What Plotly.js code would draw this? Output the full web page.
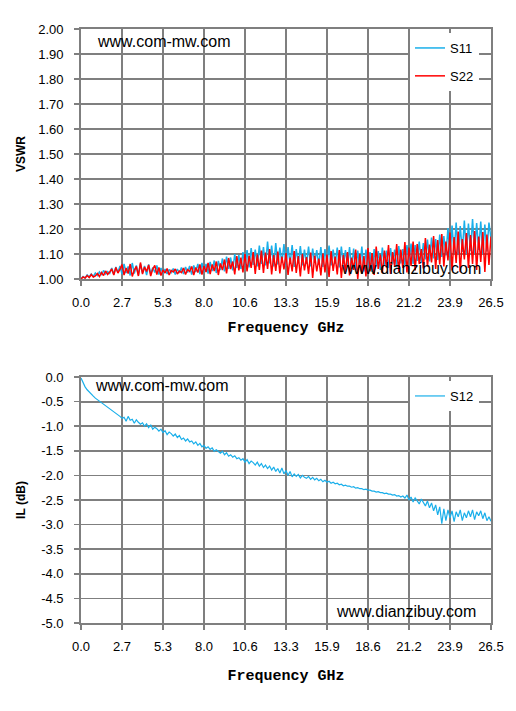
<!DOCTYPE html>
<html>
<head>
<meta charset="utf-8">
<script src="https://cdn.plot.ly/plotly-3.0.1.min.js"></script>
<style>html,body{margin:0;padding:0;background:#fff;}#chart{width:516px;height:711px;}</style>
</head>
<body>
<div id="chart"></div>
<script>
// Frequency tick positions and labels (GHz)
const tickVals = [0, 2.65, 5.3, 7.95, 10.6, 13.25, 15.9, 18.55, 21.2, 23.85, 26.5];
const tickLabels = ['0.0','2.7','5.3','8.0','10.6','13.3','15.9','18.6','21.2','23.9','26.5'];
const vswrTickVals = [1.0,1.1,1.2,1.3,1.4,1.5,1.6,1.7,1.8,1.9,2.0];
const vswrTickLabels = ['1.00','1.10','1.20','1.30','1.40','1.50','1.60','1.70','1.80','1.90','2.00'];
const ilTickVals = [0,-0.5,-1,-1.5,-2,-2.5,-3,-3.5,-4,-4.5,-5];
const ilTickLabels = ['0.0','-0.5','-1.0','-1.5','-2.0','-2.5','-3.0','-3.5','-4.0','-4.5','-5.0'];

// S11 VSWR, 201 samples across 0–26.5 GHz
const s11 = [
1.000,1.010,1.004,1.016,1.008,1.020,1.010,1.024,1.014,1.028,
1.016,1.034,1.020,1.030,1.022,1.044,1.018,1.048,1.026,1.052,
1.020,1.060,1.024,1.050,1.014,1.064,1.022,1.054,1.016,1.060,
1.024,1.052,1.016,1.058,1.020,1.046,1.026,1.054,1.018,1.044,
1.022,1.040,1.020,1.038,1.026,1.042,1.018,1.040,1.024,1.046,
1.020,1.048,1.026,1.052,1.018,1.054,1.028,1.060,1.020,1.064,
1.030,1.060,1.022,1.068,1.032,1.074,1.024,1.072,1.036,1.082,
1.030,1.090,1.040,1.086,1.034,1.100,1.044,1.096,1.040,1.108,
1.052,1.116,1.046,1.124,1.056,1.118,1.050,1.134,1.060,1.128,
1.054,1.150,1.062,1.134,1.050,1.144,1.058,1.126,1.064,1.140,
1.052,1.128,1.060,1.136,1.048,1.120,1.062,1.132,1.054,1.118,
1.060,1.130,1.050,1.122,1.064,1.116,1.056,1.128,1.048,1.120,
1.062,1.134,1.054,1.118,1.060,1.126,1.046,1.130,1.058,1.116,
1.050,1.128,1.040,1.122,1.036,1.114,1.044,1.130,1.030,1.118,
1.046,1.108,1.028,1.120,1.050,1.112,1.036,1.126,1.054,1.114,
1.044,1.124,1.058,1.118,1.046,1.132,1.062,1.120,1.054,1.136,
1.066,1.142,1.060,1.136,1.072,1.150,1.064,1.144,1.078,1.158,
1.070,1.166,1.082,1.160,1.076,1.178,1.088,1.172,1.094,1.204,
1.092,1.214,1.104,1.226,1.098,1.212,1.108,1.234,1.100,1.222,
1.112,1.240,1.104,1.224,1.116,1.230,1.100,1.218,1.110,1.226,1.160
];

// S22 VSWR
const s22 = [
1.000,1.008,1.004,1.014,1.006,1.018,1.008,1.012,1.022,1.010,
1.026,1.014,1.032,1.018,1.028,1.040,1.016,1.046,1.024,1.038,
1.058,1.016,1.044,1.022,1.060,1.010,1.036,1.050,1.012,1.066,
1.020,1.048,1.030,1.056,1.012,1.040,1.054,1.018,1.046,1.014,
1.036,1.024,1.042,1.016,1.034,1.028,1.040,1.020,1.032,1.026,
1.044,1.018,1.038,1.030,1.050,1.016,1.046,1.026,1.058,1.018,
1.052,1.028,1.064,1.020,1.058,1.032,1.070,1.016,1.062,1.036,
1.078,1.022,1.084,1.040,1.070,1.018,1.092,1.034,1.086,1.026,
1.100,1.030,1.094,1.044,1.108,1.020,1.098,1.036,1.114,1.024,
1.106,1.040,1.120,1.018,1.096,1.032,1.110,1.022,1.090,1.038,
1.104,1.016,1.086,1.030,1.112,1.024,1.092,1.010,1.100,1.034,
1.088,1.020,1.106,1.004,1.094,1.030,1.082,1.014,1.102,1.026,
1.098,1.008,1.112,1.032,1.090,1.018,1.116,1.004,1.096,1.028,
1.108,1.014,1.086,1.036,1.118,1.000,1.100,1.022,1.092,1.010,
1.124,1.030,1.104,1.016,1.130,1.040,1.098,1.024,1.114,1.046,
1.136,1.020,1.108,1.050,1.140,1.030,1.118,1.044,1.148,1.026,
1.126,1.052,1.150,1.034,1.140,1.060,1.120,1.042,1.164,1.050,
1.138,1.066,1.172,1.040,1.156,1.058,1.180,1.050,1.150,1.074,
1.186,1.034,1.168,1.064,1.190,1.028,1.160,1.078,1.184,1.044,
1.176,1.060,1.192,1.036,1.170,1.068,1.188,1.028,1.178,1.056,1.170
];

// S12 insertion loss in dB
const s12 = [
-0.02,-0.12,-0.20,-0.26,-0.31,-0.35,-0.39,-0.43,-0.46,-0.49,
-0.52,-0.55,-0.58,-0.61,-0.64,-0.67,-0.70,-0.74,-0.77,-0.80,
-0.84,-0.82,-0.90,-0.80,-0.88,-0.86,-0.94,-0.87,-0.92,-0.96,
-0.93,-1.00,-0.95,-1.03,-0.97,-1.06,-1.02,-1.05,-1.10,-1.06,
-1.13,-1.09,-1.17,-1.12,-1.15,-1.20,-1.16,-1.23,-1.19,-1.27,
-1.24,-1.30,-1.26,-1.32,-1.30,-1.36,-1.32,-1.39,-1.35,-1.42,
-1.39,-1.45,-1.42,-1.47,-1.44,-1.51,-1.48,-1.52,-1.55,-1.51,
-1.58,-1.54,-1.61,-1.58,-1.63,-1.60,-1.66,-1.64,-1.69,-1.66,
-1.73,-1.68,-1.76,-1.71,-1.74,-1.79,-1.73,-1.81,-1.76,-1.84,
-1.79,-1.86,-1.81,-1.89,-1.83,-1.92,-1.86,-1.95,-1.85,-1.97,
-1.90,-2.00,-1.92,-2.03,-1.97,-2.02,-1.98,-2.05,-2.00,-2.04,
-2.06,-2.02,-2.08,-2.04,-2.09,-2.06,-2.11,-2.08,-2.13,-2.10,
-2.14,-2.12,-2.16,-2.14,-2.17,-2.16,-2.19,-2.18,-2.21,-2.20,
-2.22,-2.22,-2.24,-2.23,-2.26,-2.25,-2.27,-2.27,-2.29,-2.28,
-2.30,-2.30,-2.32,-2.32,-2.34,-2.33,-2.35,-2.35,-2.37,-2.36,
-2.38,-2.38,-2.40,-2.39,-2.42,-2.41,-2.44,-2.42,-2.46,-2.40,
-2.50,-2.44,-2.54,-2.46,-2.52,-2.58,-2.48,-2.56,-2.62,-2.52,
-2.66,-2.56,-2.72,-2.60,-2.80,-2.64,-2.98,-2.68,-2.92,-2.70,
-2.86,-2.72,-2.94,-2.74,-2.84,-2.70,-2.92,-2.76,-2.86,-2.72,
-2.84,-2.70,-2.90,-2.74,-2.82,-2.72,-2.88,-2.76,-2.92,-2.84,-2.93
];

// Uniform frequency sampling grid 0–26.5 GHz
const fMax = 26.5;
const freq = s11.map((_, i) => +(i * fMax / (s11.length - 1)).toFixed(4));

const BLUE = '#1AAFEA';
const RED = '#FF0000';
const GRID = '#7F7F7F';
const tickFont = {family: 'Liberation Sans, Arial, sans-serif', size: 13, color: '#000'};
const markFont = {family: 'Liberation Sans, Arial, sans-serif', size: 16, color: '#000'};

const traces = [
  {x: freq, y: s11, name: 'S11', type: 'scatter', mode: 'lines',
   line: {color: BLUE, width: 1.5}, xaxis: 'x', yaxis: 'y', legend: 'legend', legendgroup: 'a'},
  {x: freq, y: s22, name: 'S22', type: 'scatter', mode: 'lines',
   line: {color: RED, width: 1.5}, xaxis: 'x', yaxis: 'y', legend: 'legend', legendgroup: 'b'},
  {x: freq, y: s12, name: 'S12', type: 'scatter', mode: 'lines',
   line: {color: BLUE, width: 1.2}, xaxis: 'x2', yaxis: 'y2', legend: 'legend2'}
];

const xCommon = {
  range: [0, 26.5], tickmode: 'array', tickvals: tickVals, ticktext: tickLabels,
  showgrid: true, gridcolor: GRID, gridwidth: 1.8,
  showline: true, linecolor: GRID, linewidth: 1.8, mirror: true,
  ticks: 'outside', ticklen: 5, tickcolor: GRID, tickwidth: 1.5,
  tickfont: tickFont, zeroline: false, fixedrange: true, ticklabelstandoff: 6,
  domain: [81/516, 491/516], automargin: false
};
const yCommon = {
  showgrid: true, gridcolor: GRID, gridwidth: 1.8,
  showline: true, linecolor: GRID, linewidth: 1.8, mirror: true,
  ticks: 'outside', ticklen: 5, tickcolor: GRID, tickwidth: 1.5,
  tickfont: tickFont, zeroline: false, fixedrange: true, tickmode: 'array',
  ticklabelstandoff: 8, automargin: false
};
const axTitleFont = {family: 'Liberation Mono, Courier New, monospace', size: 15, color: '#000', weight: 'bold'};
const yTitleFont = {family: 'Liberation Sans, Arial, sans-serif', size: 12, color: '#000', weight: 'bold'};

const layout = {
  width: 516, height: 711, autosize: false,
  margin: {l: 0, r: 0, t: 0, b: 0},
  paper_bgcolor: '#fff', plot_bgcolor: '#fff',
  xaxis: Object.assign({}, xCommon, {anchor: 'y',
    title: {text: 'Frequency GHz', font: axTitleFont, standoff: 12}}),
  yaxis: Object.assign({}, yCommon, {anchor: 'x', range: [1, 2],
    tickvals: vswrTickVals, ticktext: vswrTickLabels,
    domain: [1 - 279/711, 1 - 29/711],
    title: {text: 'VSWR', font: yTitleFont, standoff: 10}}),
  xaxis2: Object.assign({}, xCommon, {anchor: 'y2',
    title: {text: 'Frequency GHz', font: axTitleFont, standoff: 16}}),
  yaxis2: Object.assign({}, yCommon, {anchor: 'x2', range: [-5, 0],
    tickvals: ilTickVals, ticktext: ilTickLabels,
    domain: [1 - 623/711, 1 - 377/711],
    title: {text: 'IL (dB)', font: yTitleFont, standoff: 13}}),
  showlegend: true,
  legend: {x: 410/516, y: 1 - 33/711, xanchor: 'left', yanchor: 'top',
    bgcolor: '#fff', borderwidth: 0, font: tickFont, traceorder: 'grouped', tracegroupgap: 8},
  legend2: {x: 410/516, y: 1 - 381/711, xanchor: 'left', yanchor: 'top',
    bgcolor: '#fff', borderwidth: 0, font: tickFont},
  annotations: [
    {text: 'www.com-mw.com', xref: 'paper', yref: 'paper', x: 95/516, y: 1 - 42/711,
     xanchor: 'left', yanchor: 'middle', showarrow: false, font: markFont},
    {text: 'www.dianzibuy.com', xref: 'paper', yref: 'paper', x: 483/516, y: 1 - 268/711,
     xanchor: 'right', yanchor: 'middle', showarrow: false, font: markFont},
    {text: 'www.com-mw.com', xref: 'paper', yref: 'paper', x: 93/516, y: 1 - 386/711,
     xanchor: 'left', yanchor: 'middle', showarrow: false, font: markFont},
    {text: 'www.dianzibuy.com', xref: 'paper', yref: 'paper', x: 478/516, y: 1 - 611/711,
     xanchor: 'right', yanchor: 'middle', showarrow: false, font: markFont}
  ]
};

Plotly.newPlot('chart', traces, layout, {staticPlot: true, displayModeBar: false});
</script>
</body>
</html>
